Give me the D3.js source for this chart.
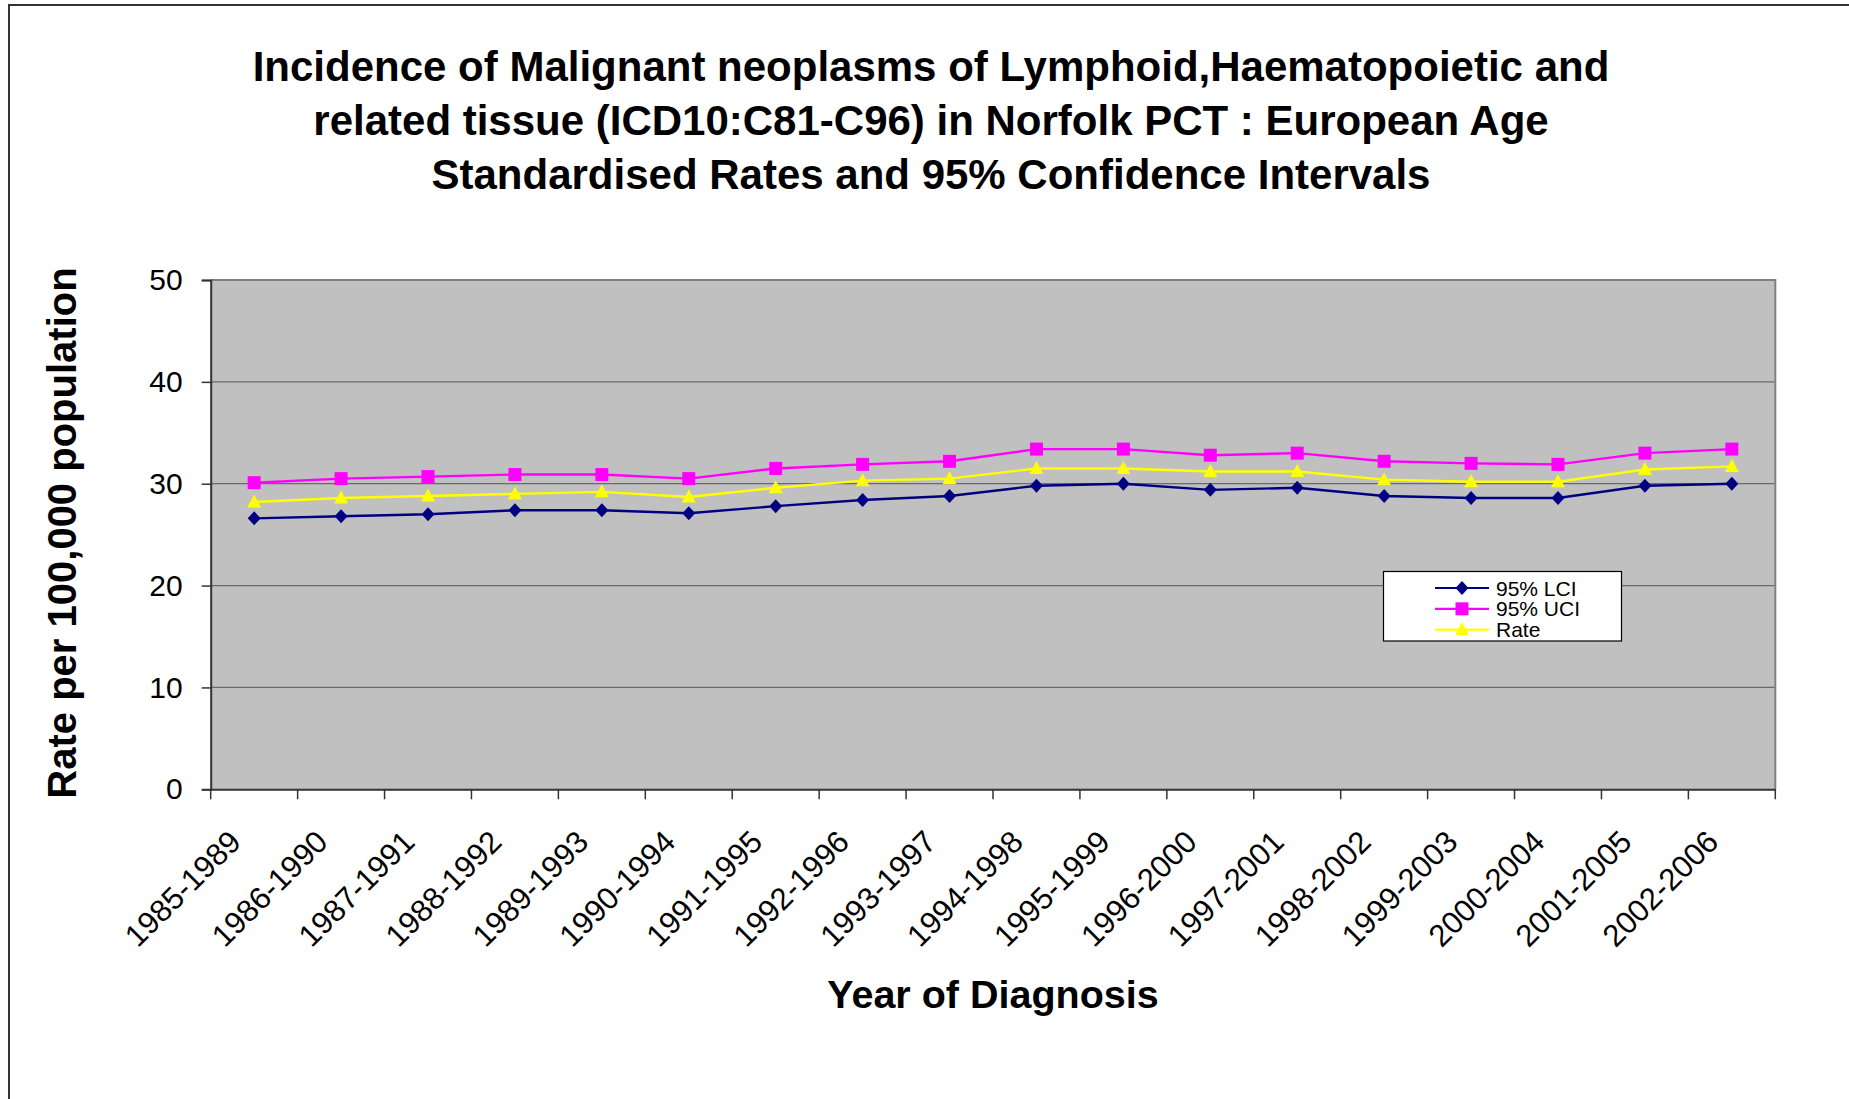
<!DOCTYPE html>
<html>
<head>
<meta charset="utf-8">
<script src="https://cdn.jsdelivr.net/npm/d3@7"></script>
<style>
  html, body { margin: 0; padding: 0; background: #ffffff; }
  svg { display: block; }
  text { font-family: "Liberation Sans", Arial, sans-serif; }
</style>
</head>
<body>
<svg id="chart" width="1849" height="1099"></svg>
<script>
// ---------- data ----------
const categories = ["1985-1989","1986-1990","1987-1991","1988-1992","1989-1993","1990-1994",
  "1991-1995","1992-1996","1993-1997","1994-1998","1995-1999","1996-2000","1997-2001",
  "1998-2002","1999-2003","2000-2004","2001-2005","2002-2006"];
const lci  = [26.6, 26.8, 27.0, 27.4, 27.4, 27.1, 27.8, 28.4, 28.8, 29.8, 30.0, 29.4, 29.6, 28.8, 28.6, 28.6, 29.8, 30.0];
const uci  = [30.1, 30.5, 30.7, 30.9, 30.9, 30.5, 31.5, 31.9, 32.2, 33.4, 33.4, 32.8, 33.0, 32.2, 32.0, 31.9, 33.0, 33.4];
const rate = [28.2, 28.6, 28.8, 29.0, 29.2, 28.7, 29.6, 30.3, 30.5, 31.5, 31.5, 31.2, 31.2, 30.4, 30.2, 30.2, 31.4, 31.7];
const yTicks = [0, 10, 20, 30, 40, 50];
const seriesNames = ["95% LCI", "95% UCI", "Rate"];
const titleLines = [
  "Incidence of Malignant neoplasms of Lymphoid,Haematopoietic and",
  "related tissue (ICD10:C81-C96) in Norfolk PCT : European Age",
  "Standardised Rates and 95% Confidence Intervals"
];

// ---------- layout ----------
const svg = d3.select("#chart");
const plot = { left: 210.7, right: 1775.3, top: 280, bottom: 789.3 };

const x = d3.scaleBand().domain(categories).range([plot.left, plot.right]).padding(0);
const xb = d3.scaleLinear().domain([0, categories.length]).range([plot.left, plot.right]);
const y = d3.scaleLinear().domain([0, 50]).range([plot.bottom, plot.top]);
const cx = c => x(c) + x.bandwidth() / 2;

// outer chart border (top + left visible)
svg.append("rect").attr("x", 9).attr("y", 5).attr("width", 1900).attr("height", 1200)
  .attr("fill", "none").attr("stroke", "#333333").attr("stroke-width", 2);

// title
const title = svg.append("text").attr("text-anchor", "middle")
  .attr("font-size", 42).attr("font-weight", "bold").attr("fill", "#000");
titleLines.forEach((t, i) => {
  title.append("tspan").attr("x", 931).attr("y", 81 + i * 54).text(t);
});

// plot background
svg.append("rect").attr("x", plot.left).attr("y", plot.top)
  .attr("width", plot.right - plot.left).attr("height", plot.bottom - plot.top)
  .attr("fill", "#c0c0c0");

// gridlines
svg.append("g").selectAll("line").data(yTicks.filter(v => v > 0 && v < 50)).join("line")
  .attr("x1", plot.left).attr("x2", plot.right)
  .attr("y1", d => y(d)).attr("y2", d => y(d))
  .attr("stroke", "#6a6a6a").attr("stroke-width", 1.3);

// plot border top/right
svg.append("path")
  .attr("d", `M${plot.left},${plot.top}H${plot.right}V${plot.bottom}`)
  .attr("fill", "none").attr("stroke", "#808080").attr("stroke-width", 2);

// y axis
const yAxis = svg.append("g").attr("transform", `translate(${plot.left},0)`)
  .call(d3.axisLeft(y).tickValues(yTicks).tickSize(9).tickPadding(19).tickFormat(d3.format("d")));
yAxis.select(".domain").attr("stroke", "#333").attr("stroke-width", 2);
yAxis.selectAll(".tick line").attr("stroke", "#333").attr("stroke-width", 1.5);
yAxis.selectAll(".tick text").attr("font-size", 30).attr("fill", "#000")
  .attr("font-family", "'Liberation Sans', Arial, sans-serif");

// x axis
const xAxis = svg.append("g").attr("transform", `translate(0,${plot.bottom})`)
  .call(d3.axisBottom(x).tickSize(0).tickPadding(0));
xAxis.select(".domain").attr("stroke", "#333").attr("stroke-width", 2);
xAxis.selectAll(".tick text")
  .attr("font-size", 31).attr("fill", "#000")
  .attr("font-family", "'Liberation Sans', Arial, sans-serif")
  .attr("text-anchor", "end").attr("dominant-baseline", "central")
  .attr("transform", "translate(-19,47) rotate(-45)")
  .attr("x", 0).attr("y", 0).attr("dy", null);
svg.append("g").selectAll("line").data(d3.range(categories.length + 1)).join("line")
  .attr("x1", d => xb(d)).attr("x2", d => xb(d))
  .attr("y1", plot.bottom).attr("y2", plot.bottom + 10)
  .attr("stroke", "#333").attr("stroke-width", 1.5);

// axis titles
svg.append("text").attr("x", 993).attr("y", 1008).attr("text-anchor", "middle")
  .attr("font-size", 39.5).attr("font-weight", "bold").text("Year of Diagnosis");
svg.append("text").attr("transform", "translate(76,533) rotate(-90)").attr("text-anchor", "middle")
  .attr("font-size", 40).attr("font-weight", "bold").text("Rate per 100,000 population");

// markers
const markerPaths = {
  diamond: "M0,-7L6.5,0L0,7L-6.5,0Z",
  square: "M-6.5,-6.5H6.5V6.5H-6.5Z",
  triangle: "M0,-7.5L7,5.5H-7Z"
};
const series = [
  { name: seriesNames[0], values: lci,  color: "#000080", marker: "diamond" },
  { name: seriesNames[1], values: uci,  color: "#ff00ff", marker: "square" },
  { name: seriesNames[2], values: rate, color: "#ffff00", marker: "triangle" }
];

const line = d3.line().x((d, i) => cx(categories[i])).y(d => y(d));
series.forEach(s => {
  const g = svg.append("g");
  g.append("path").datum(s.values).attr("d", line)
    .attr("fill", "none").attr("stroke", s.color).attr("stroke-width", 2.4);
  g.selectAll("path.m").data(s.values).join("path").attr("class", "m")
    .attr("d", markerPaths[s.marker])
    .attr("transform", (d, i) => `translate(${cx(categories[i])},${y(d)})`)
    .attr("fill", s.color);
});

// legend
const lg = svg.append("g");
lg.append("rect").attr("x", 1383.5).attr("y", 571.5).attr("width", 238).attr("height", 69.5)
  .attr("fill", "#fff").attr("stroke", "#000").attr("stroke-width", 1.2);
series.forEach((s, i) => {
  const yy = 588 + i * 20.8;
  lg.append("line").attr("x1", 1435).attr("x2", 1489).attr("y1", yy).attr("y2", yy)
    .attr("stroke", s.color).attr("stroke-width", 2.2);
  lg.append("path").attr("d", markerPaths[s.marker])
    .attr("transform", `translate(1462,${yy})`).attr("fill", s.color);
  lg.append("text").attr("x", 1496).attr("y", yy + 7.5).attr("font-size", 21)
    .attr("fill", "#000").text(s.name);
});
</script>
</body>
</html>
